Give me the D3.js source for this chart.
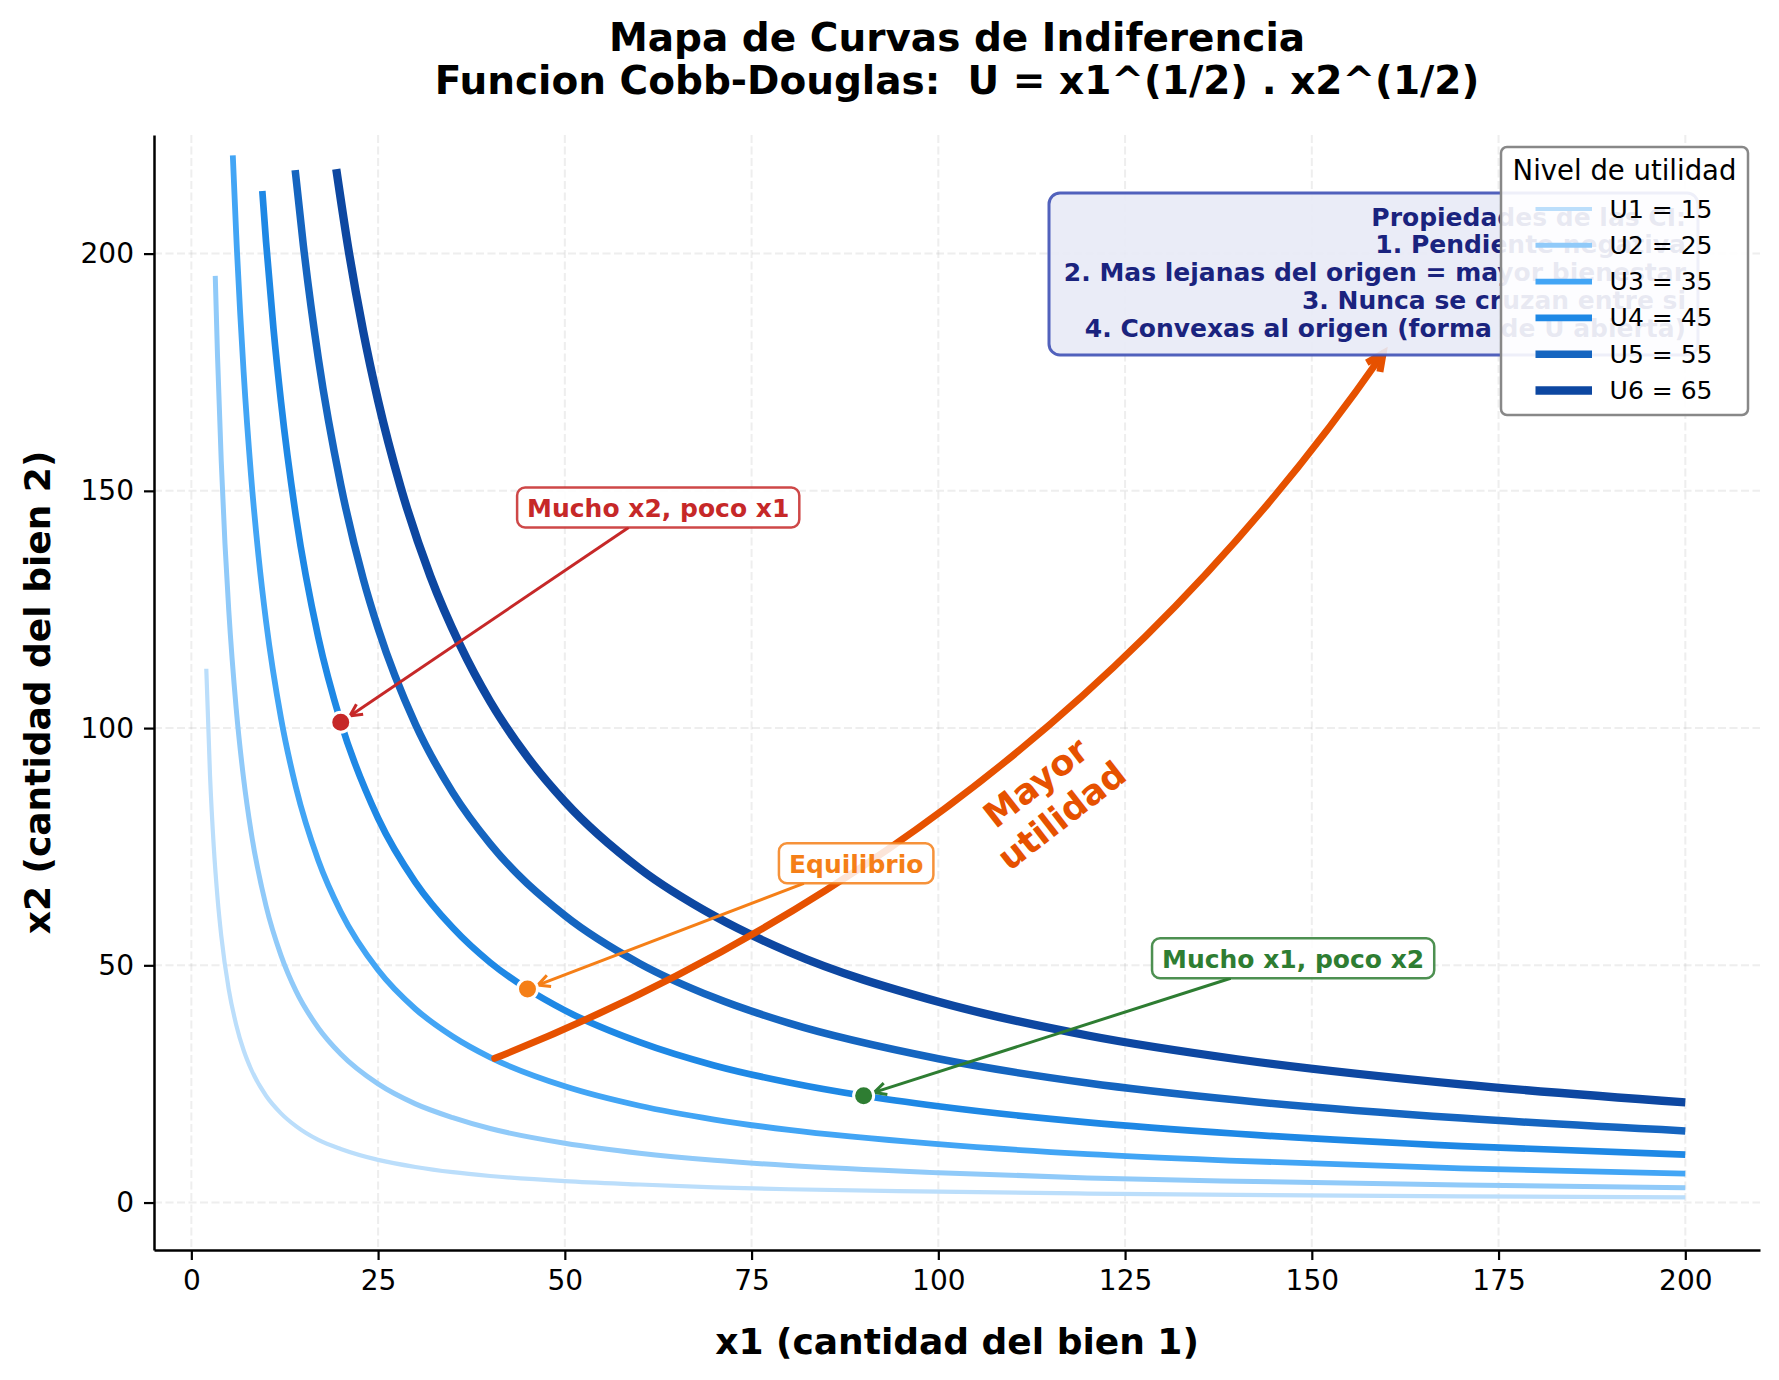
<!DOCTYPE html>
<html>
<head>
<meta charset="utf-8">
<script src="https://cdn.jsdelivr.net/npm/d3@7"></script>
<style>
  body { margin: 0; background: #fff; }
  svg { display: block; font-family: "DejaVu Sans", sans-serif; }
</style>
</head>
<body>
<div id="chart"></div>
<script>
// Indifference curve map, Cobb-Douglas U = x1^(1/2) . x2^(1/2)

// utility levels for each curve
const utilityLevels = [15, 25, 35, 45, 55, 65];

// points: [x1, x2]
const curveU1 = [[2, 112.5], [2.5, 90], [3, 75], [3.5, 64.3], [4, 56.3], [5, 45], [6, 37.5], [7, 32.1], [8, 28.1],
  [10, 22.5], [12, 18.8], [14, 16.1], [17, 13.2], [20, 11.3], [25, 9], [30, 7.5], [35, 6.4], [40, 5.6], [50, 4.5],
  [60, 3.8], [70, 3.2], [80, 2.8], [100, 2.3], [120, 1.9], [140, 1.6], [170, 1.3], [200, 1.1]];
const curveU2 = [[3.2, 195.3], [3.5, 178.6], [4, 156.3], [4.5, 138.9], [5, 125], [6, 104.2], [7, 89.3], [8, 78.1],
  [10, 62.5], [12, 52.1], [14, 44.6], [17, 36.8], [20, 31.3], [25, 25], [30, 20.8], [35, 17.9], [40, 15.6], [50, 12.5],
  [60, 10.4], [70, 8.9], [80, 7.8], [100, 6.3], [120, 5.2], [140, 4.5], [170, 3.7], [200, 3.1]];
const curveU3 = [[5.55, 220.7], [6, 204.2], [7, 175], [8, 153.1], [9, 136.1], [10, 122.5], [12, 102.1], [14, 87.5],
  [17, 72.1], [20, 61.3], [25, 49], [30, 40.8], [35, 35], [40, 30.6], [50, 24.5], [60, 20.4], [70, 17.5], [80, 15.3],
  [100, 12.3], [120, 10.2], [140, 8.8], [170, 7.2], [200, 6.1]];
const curveU4 = [[9.5, 213.2], [10, 202.5], [11, 184.1], [12, 168.8], [14, 144.6], [17, 119.1], [20, 101.3], [25, 81],
  [30, 67.5], [35, 57.9], [40, 50.6], [45, 45], [50, 40.5], [60, 33.8], [70, 28.9], [80, 25.3], [90, 22.5], [100, 20.3],
  [120, 16.9], [140, 14.5], [170, 11.9], [200, 10.1]];
const curveU5 = [[13.9, 217.6], [15, 201.7], [17, 177.9], [20, 151.3], [23, 131.5], [25, 121], [30, 100.8], [35, 86.4],
  [40, 75.6], [50, 60.5], [60, 50.4], [70, 43.2], [80, 37.8], [100, 30.3], [120, 25.2], [140, 21.6], [170, 17.8],
  [200, 15.1]];
const curveU6 = [[19.4, 217.8], [21, 201.2], [23, 183.7], [25, 169], [28, 150.9], [32, 132], [36, 117.4], [40, 105.6],
  [45, 93.9], [50, 84.5], [60, 70.4], [70, 60.4], [80, 52.8], [100, 42.3], [120, 35.2], [140, 30.2], [170, 24.9],
  [200, 21.1]];
const curves = [curveU1, curveU2, curveU3, curveU4, curveU5, curveU6];

// highlighted points on U4 and their labels
const pointLabels = ["Mucho x2, poco x1", "Equilibrio", "Mucho x1, poco x2"];
const pointX = [20, 45, 90];
const pointY = [101.25, 45, 22.5];
const labelX = [62.5, 89, 147.5];
const labelY = [146.5, 71.5, 51.5];

// "mayor utilidad" arrow (data coords)
const growthFrom = [40, 30];
const growthTo = [160, 180];
const growthTextAt = [114.8, 85];

const xTicks = [0, 25, 50, 75, 100, 125, 150, 175, 200];
const yTicks = [0, 50, 100, 150, 200];

const propsLines = [
  "Propiedades de las CI:",
  "1. Pendiente negativa",
  "2. Mas lejanas del origen = mayor bienestar",
  "3. Nunca se cruzan entre si",
  "4. Convexas al origen (forma de U abierta)"
];

// styles
const curveColors = ["#bbdefb", "#90caf9", "#42a5f5", "#1e88e5", "#1565c0", "#0d47a1"];
const curveWidths = [4.2, 5, 5.8, 6.7, 7.5, 8.3];
const pointColors = ["#c62828", "#f57f17", "#2e7d32"];
const orange = "#e65100";

const width = 1779;
const height = 1380;
const plot = { left: 154, right: 1760, top: 135, bottom: 1250 };

const svg = d3.select("#chart")
  .append("svg")
  .attr("width", width)
  .attr("height", height);

svg.append("rect").attr("width", width).attr("height", height).attr("fill", "#fff");

const x = d3.scaleLinear().domain([-5, 210]).range([plot.left, plot.right]);
const y = d3.scaleLinear().domain([-10, 225]).range([plot.bottom, plot.top]);

// grid
const grid = svg.append("g")
  .attr("stroke", "#b0b0b0")
  .attr("stroke-opacity", 0.22)
  .attr("stroke-width", 2)
  .attr("stroke-dasharray", "8,3.5");
grid.selectAll("line.vx")
  .data(xTicks)
  .join("line")
  .attr("x1", (d) => x(d)).attr("x2", (d) => x(d))
  .attr("y1", plot.top).attr("y2", plot.bottom);
grid.selectAll("line.hy")
  .data(yTicks)
  .join("line")
  .attr("class", "hy")
  .attr("x1", plot.left).attr("x2", plot.right)
  .attr("y1", (d) => y(d)).attr("y2", (d) => y(d));

// axes
const xAxis = svg.append("g")
  .attr("transform", `translate(0,${plot.bottom})`)
  .call(d3.axisBottom(x).tickValues(xTicks).tickSize(10).tickPadding(10).tickSizeOuter(0));
const yAxis = svg.append("g")
  .attr("transform", `translate(${plot.left},0)`)
  .call(d3.axisLeft(y).tickValues(yTicks).tickSize(10).tickPadding(10).tickSizeOuter(0));

[xAxis, yAxis].forEach((g) => {
  g.select(".domain").attr("stroke", "#000").attr("stroke-width", 2.5);
  g.selectAll(".tick line").attr("stroke", "#000").attr("stroke-width", 2.2);
  g.selectAll(".tick text")
    .attr("fill", "#000")
    .attr("font-size", 28)
    .attr("font-family", "DejaVu Sans");
});

// curves
const line = d3.line()
  .x((d) => x(d[0]))
  .y((d) => y(d[1]))
  .curve(d3.curveMonotoneX);

svg.append("g")
  .selectAll("path")
  .data(curves)
  .join("path")
  .attr("d", line)
  .attr("fill", "none")
  .attr("stroke", (d, i) => curveColors[i])
  .attr("stroke-width", (d, i) => curveWidths[i])
  .attr("stroke-linecap", "butt");

// "mayor utilidad" curved arrow (arc3, rad 0.15 in pixel space)
(function () {
  const p0 = [x(growthFrom[0]), y(growthFrom[1])];
  const p2 = [x(growthTo[0]), y(growthTo[1])];
  const rad = 0.15;
  const mx = (p0[0] + p2[0]) / 2;
  const my = (p0[1] + p2[1]) / 2;
  const dx = p2[0] - p0[0];
  const dyUp = -(p2[1] - p0[1]);
  const c = [mx + rad * dyUp, my + rad * dx];

  const unit = (a, b) => {
    const l = Math.hypot(b[0] - a[0], b[1] - a[1]);
    return [(b[0] - a[0]) / l, (b[1] - a[1]) / l];
  };
  const uEnd = unit(c, p2);
  const uStart = unit(p0, c);
  const s = [p0[0] + uStart[0] * 5, p0[1] + uStart[1] * 5];
  const e = [p2[0] - uEnd[0] * 6, p2[1] - uEnd[1] * 6];

  const g = svg.append("g");
  g.append("path")
    .attr("d", `M${s[0]},${s[1]} Q${c[0]},${c[1]} ${e[0]},${e[1]}`)
    .attr("fill", "none")
    .attr("stroke", orange)
    .attr("stroke-width", 7)
    .attr("stroke-linecap", "round");

  const ang = Math.atan2(uEnd[1], uEnd[0]);
  const L = 17, W = 8;
  const back = [e[0] - Math.cos(ang) * L, e[1] - Math.sin(ang) * L];
  const nx = -Math.sin(ang), ny = Math.cos(ang);
  g.append("path")
    .attr("d", `M${back[0] + nx * W},${back[1] + ny * W} L${e[0]},${e[1]} L${back[0] - nx * W},${back[1] - ny * W}`)
    .attr("fill", "none")
    .attr("stroke", orange)
    .attr("stroke-width", 7)
    .attr("stroke-linejoin", "miter");

  const t = g.append("text")
    .attr("transform", `translate(${x(growthTextAt[0])},${y(growthTextAt[1])}) rotate(-38)`)
    .attr("text-anchor", "middle")
    .attr("fill", orange)
    .attr("font-size", 35)
    .attr("font-weight", "bold");
  t.append("tspan").attr("x", 0).attr("y", -21).attr("dominant-baseline", "central").text("Mayor");
  t.append("tspan").attr("x", 0).attr("y", 21).attr("dominant-baseline", "central").text("utilidad");
})();

// annotations: arrows, markers, boxes
const annot = svg.append("g");
const boxes = [];
pointLabels.forEach((label, i) => {
  const cx = x(labelX[i]);
  const cy = y(labelY[i]);
  const tmp = annot.append("text")
    .attr("font-size", 25)
    .attr("font-weight", "bold")
    .text(label);
  const w = tmp.node().getComputedTextLength();
  tmp.remove();
  boxes.push({ cx, cy, w: w + 20, h: 40 });
});

const arrows = annot.append("g");
pointLabels.forEach((label, i) => {
  const b = boxes[i];
  const tx = x(pointX[i]);
  const ty = y(pointY[i]);
  const dx = tx - b.cx;
  const dy = ty - b.cy;
  const tEdge = Math.min(Math.abs((b.w / 2) / dx), Math.abs((b.h / 2) / dy));
  const sx = b.cx + dx * tEdge;
  const sy = b.cy + dy * tEdge;
  const len = Math.hypot(dx, dy);
  const ux = dx / len, uy = dy / len;
  const ex = tx - ux * 11;
  const ey = ty - uy * 11;
  arrows.append("line")
    .attr("x1", sx).attr("y1", sy)
    .attr("x2", ex).attr("y2", ey)
    .attr("stroke", pointColors[i])
    .attr("stroke-width", 3);
  const L = 12, W = 6;
  const bx = ex - ux * L, by = ey - uy * L;
  arrows.append("path")
    .attr("d", `M${bx - uy * W},${by + ux * W} L${ex},${ey} L${bx + uy * W},${by - ux * W}`)
    .attr("fill", "none")
    .attr("stroke", pointColors[i])
    .attr("stroke-width", 3);
});

annot.append("g")
  .selectAll("circle")
  .data(pointX)
  .join("circle")
  .attr("cx", (d) => x(d))
  .attr("cy", (d, i) => y(pointY[i]))
  .attr("r", 10)
  .attr("fill", (d, i) => pointColors[i])
  .attr("stroke", "#fff")
  .attr("stroke-width", 3);

const labelGroups = annot.append("g")
  .selectAll("g")
  .data(pointLabels)
  .join("g")
  .attr("transform", (d, i) => `translate(${boxes[i].cx},${boxes[i].cy})`);
labelGroups.append("rect")
  .attr("x", (d, i) => -boxes[i].w / 2)
  .attr("y", (d, i) => -boxes[i].h / 2)
  .attr("width", (d, i) => boxes[i].w)
  .attr("height", (d, i) => boxes[i].h)
  .attr("rx", 8)
  .attr("fill", "#fff")
  .attr("fill-opacity", 0.85)
  .attr("stroke", (d, i) => pointColors[i])
  .attr("stroke-opacity", 0.85)
  .attr("stroke-width", 2.5);
labelGroups.append("text")
  .attr("text-anchor", "middle")
  .attr("dominant-baseline", "central")
  .attr("y", 1)
  .attr("fill", (d, i) => pointColors[i])
  .attr("font-size", 25)
  .attr("font-weight", "bold")
  .text((d) => d);

// properties box
const props = svg.append("g");
props.append("rect")
  .attr("x", 1049).attr("y", 193)
  .attr("width", 649).attr("height", 162)
  .attr("rx", 11)
  .attr("fill", "#e8eaf6")
  .attr("fill-opacity", 0.9)
  .attr("stroke", "#3f51b5")
  .attr("stroke-opacity", 0.9)
  .attr("stroke-width", 3);
props.append("text")
  .attr("text-anchor", "end")
  .attr("fill", "#1a237e")
  .attr("font-size", 25)
  .attr("font-weight", "bold")
  .selectAll("tspan")
  .data(propsLines)
  .join("tspan")
  .attr("x", 1686)
  .attr("y", (d, i) => 217 + i * 27.9)
  .attr("dominant-baseline", "central")
  .text((d) => d);

// legend
const legend = svg.append("g").attr("transform", "translate(1501,147)");
legend.append("rect")
  .attr("width", 247).attr("height", 268)
  .attr("rx", 6)
  .attr("fill", "#fff")
  .attr("fill-opacity", 0.9)
  .attr("stroke", "#888")
  .attr("stroke-width", 2.5);
legend.append("text")
  .attr("x", 123.5).attr("y", 23)
  .attr("text-anchor", "middle")
  .attr("dominant-baseline", "central")
  .attr("font-size", 27.5)
  .attr("fill", "#000")
  .text("Nivel de utilidad");
legend.selectAll("g.item")
  .data(utilityLevels)
  .join("g")
  .attr("class", "item")
  .attr("transform", (d, i) => `translate(0,${62 + i * 36.3})`)
  .call((g) => {
    g.append("line")
      .attr("x1", 34.5).attr("x2", 91)
      .attr("stroke", (d, i) => curveColors[i])
      .attr("stroke-width", (d, i) => curveWidths[i]);
    g.append("text")
      .attr("x", 108.6)
      .attr("dominant-baseline", "central")
      .attr("font-size", 25)
      .attr("fill", "#000")
      .text((d, i) => `U${i + 1} = ${d}`);
  });

// titles
const title = svg.append("text")
  .attr("text-anchor", "middle")
  .attr("font-size", 39)
  .attr("font-weight", "bold")
  .attr("fill", "#000");
title.append("tspan").attr("x", (plot.left + plot.right) / 2).attr("y", 37)
  .attr("dominant-baseline", "central").text("Mapa de Curvas de Indiferencia");
title.append("tspan").attr("x", (plot.left + plot.right) / 2).attr("y", 80)
  .attr("dominant-baseline", "central").text("Funcion Cobb-Douglas:  U = x1^(1/2) . x2^(1/2)")
  .style("white-space", "pre");

svg.append("text")
  .attr("x", (plot.left + plot.right) / 2)
  .attr("y", 1341)
  .attr("text-anchor", "middle")
  .attr("dominant-baseline", "central")
  .attr("font-size", 36)
  .attr("font-weight", "bold")
  .text("x1 (cantidad del bien 1)");

svg.append("text")
  .attr("transform", `translate(37,${(plot.top + plot.bottom) / 2}) rotate(-90)`)
  .attr("text-anchor", "middle")
  .attr("dominant-baseline", "central")
  .attr("font-size", 36)
  .attr("font-weight", "bold")
  .text("x2 (cantidad del bien 2)");
</script>
</body>
</html>
